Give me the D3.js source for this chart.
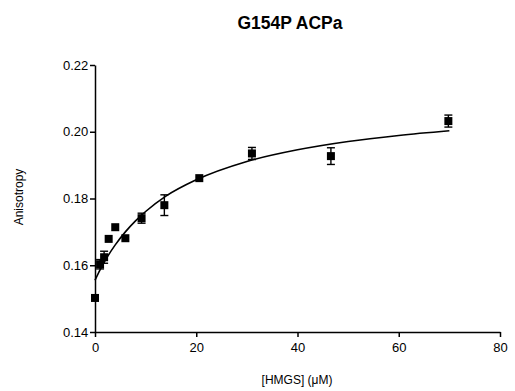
<!DOCTYPE html>
<html>
<head>
<meta charset="utf-8">
<script src="https://cdn.jsdelivr.net/npm/d3@7"></script>
<style>
  html, body { margin: 0; padding: 0; background: #fff; }
  svg { display: block; font-family: "Liberation Sans", Arial, Helvetica, sans-serif; }
</style>
</head>
<body>
<svg id="chart" width="515" height="391"></svg>
<script>
// Measured anisotropy vs. HMGS concentration
const hmgs = [0, 1.0, 1.8, 2.7, 4.0, 6.0, 9.2, 13.7, 20.6, 31.0, 46.6, 69.8];
const anisotropy = [0.1502, 0.1603, 0.1624, 0.1679, 0.1714, 0.1681, 0.1741, 0.1780, 0.1861, 0.1935, 0.1927, 0.2032];
const sem = [0, 0.0014, 0.0018, 0, 0, 0, 0.0015, 0.0031, 0, 0.0018, 0.0025, 0.0018];

// Binding curve (hyperbolic fit) sampled along the concentration range
const fitX = [0, 1, 2, 4, 6, 8, 10, 14, 20, 30, 40, 50, 60, 70];
const fitY = [0.1555, 0.1586, 0.1614, 0.1661, 0.1700, 0.1733, 0.1761, 0.1807, 0.1856, 0.1911, 0.1946, 0.1971, 0.1989, 0.2003];

const xTicks = [0, 20, 40, 60, 80];
const yTicks = [0.14, 0.16, 0.18, 0.20, 0.22];

const svg = d3.select("#chart");
const x = d3.scaleLinear().domain([0, 80]).range([95, 500]);
const y = d3.scaleLinear().domain([0.14, 0.22]).range([332, 65]);

// Axes
const xAxis = svg.append("g")
  .attr("transform", `translate(0,${y(0.14)})`)
  .call(d3.axisBottom(x).tickValues(xTicks).tickFormat(d3.format("d")).tickSize(5).tickSizeOuter(0));
const yAxis = svg.append("g")
  .attr("transform", `translate(${x(0)},0)`)
  .call(d3.axisLeft(y).tickValues(yTicks).tickFormat(d3.format(".2f")).tickSize(5).tickSizeOuter(0));

[xAxis, yAxis].forEach(g => {
  g.selectAll("path, line").attr("stroke", "#000").attr("stroke-width", 1.5);
  g.selectAll("text").attr("fill", "#000").style("font-size", "13px")
    .style("font-family", "'Liberation Sans', Arial, sans-serif");
});
xAxis.selectAll("text").attr("dy", "0.95em");
yAxis.selectAll("text").attr("dx", "0.1em");

// Fitted curve
const line = d3.line().x((d, i) => x(fitX[i])).y(d => y(d)).curve(d3.curveMonotoneX);
svg.append("path")
  .datum(fitY)
  .attr("d", line)
  .attr("fill", "none")
  .attr("stroke", "#000")
  .attr("stroke-width", 1.6);

// Error bars
const pts = hmgs.map((h, i) => ({ h, a: anisotropy[i], e: sem[i] }));
const eb = svg.append("g").selectAll("g").data(pts.filter(d => d.e > 0)).join("g")
  .attr("stroke", "#000").attr("stroke-width", 1.4);
eb.append("line")
  .attr("x1", d => x(d.h)).attr("x2", d => x(d.h))
  .attr("y1", d => y(d.a - d.e)).attr("y2", d => y(d.a + d.e));
eb.append("line")
  .attr("x1", d => x(d.h) - 4).attr("x2", d => x(d.h) + 4)
  .attr("y1", d => y(d.a + d.e)).attr("y2", d => y(d.a + d.e));
eb.append("line")
  .attr("x1", d => x(d.h) - 4).attr("x2", d => x(d.h) + 4)
  .attr("y1", d => y(d.a - d.e)).attr("y2", d => y(d.a - d.e));

// Square markers
svg.append("g").selectAll("rect").data(pts).join("rect")
  .attr("x", d => x(d.h) - 4).attr("y", d => y(d.a) - 4)
  .attr("width", 8).attr("height", 8)
  .attr("fill", "#000");

// Titles
svg.append("text")
  .attr("x", 290).attr("y", 29)
  .attr("text-anchor", "middle")
  .style("font-size", "17.5px").style("font-weight", "bold")
  .text("G154P ACPa");

svg.append("text")
  .attr("x", 297).attr("y", 384)
  .attr("text-anchor", "middle")
  .style("font-size", "12px")
  .text("[HMGS] (μM)");

svg.append("text")
  .attr("transform", "translate(23,197) rotate(-90)")
  .attr("text-anchor", "middle")
  .style("font-size", "12px")
  .text("Anisotropy");
</script>
</body>
</html>
